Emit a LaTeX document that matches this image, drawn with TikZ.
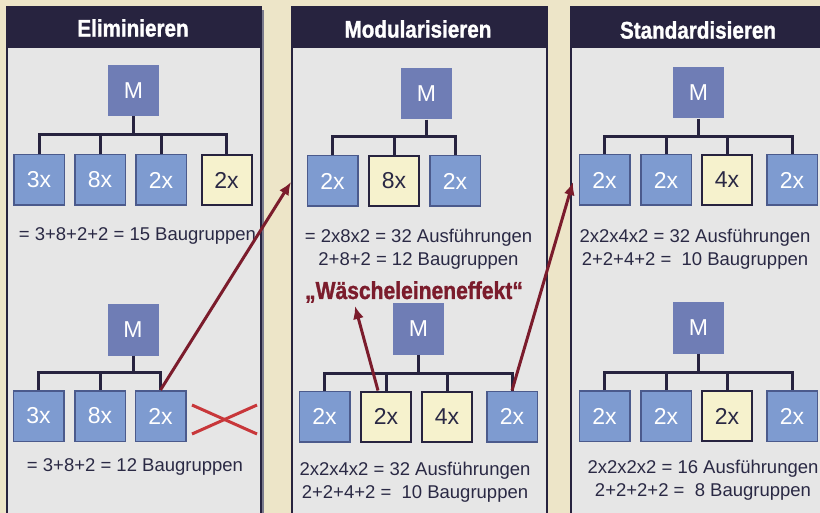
\documentclass[tikz,border=0pt]{standalone}
\usepackage{fontspec}
\setmainfont{Liberation Sans}
\newfontfamily\condbold{Liberation Sans}[FakeStretch=0.86,FakeBold=1.2]
\usetikzlibrary{arrows.meta}
\definecolor{bg}{HTML}{EDE5C8}
\definecolor{panel}{HTML}{E6E6E6}
\definecolor{navy}{HTML}{27233F}
\definecolor{txt}{HTML}{2A2944}
\definecolor{mcol}{HTML}{6F7DB5}
\definecolor{bcol}{HTML}{7E9BD0}
\definecolor{bdraw}{HTML}{4B5A8C}
\definecolor{ycol}{HTML}{F6F2CD}
\definecolor{arrred}{HTML}{7B1C2C}
\definecolor{xred}{HTML}{C8373A}
\definecolor{shadow}{HTML}{7A7A8C}
\tikzset{
  mbox/.style={fill=mcol, minimum size=51pt, inner sep=0pt, text=white, font=\fontsize{23}{26}\selectfont},
  bbox/.style={fill=bcol, draw=bdraw, line width=1.5pt, minimum size=50.5pt, inner sep=0pt, text=white, font=\fontsize{23}{26}\selectfont},
  ybox/.style={fill=ycol, draw=navy, line width=2pt, minimum size=50pt, inner sep=0pt, text=txt, font=\fontsize{23}{26}\selectfont},
  conn/.style={draw=navy, line width=3pt},
  arr/.style={draw=arrred, line width=3pt, -{Latex[length=13pt,width=11pt]}},
  eqtext/.style={text=txt, font=\fontsize{18.5}{23}\selectfont, inner sep=0pt, align=center},
  head/.style={text=white, font=\condbold\bfseries\fontsize{24}{28}\selectfont, inner sep=0pt},
  panelbox/.style={fill=panel, draw=navy, line width=1.2pt},
}
\begin{document}
\begin{tikzpicture}[x=1pt,y=-1pt]
\useasboundingbox (0,0) rectangle (820,513);
\clip (0,0) rectangle (820,513);
\fill[bg] (0,0) rectangle (820,513);
% panels
\fill[shadow] (261,10) rectangle (264,520);
\draw[panelbox] (7,7) rectangle (261,520);
\fill[navy] (7,7) rectangle (261,48);
\draw[panelbox] (292,7) rectangle (547,520);
\fill[navy] (292,7) rectangle (547,48);
\draw[panelbox] (571,7) rectangle (830,520);
\fill[navy] (571,7) rectangle (830,48);
\node[head] (h1) at (133,28) {Eliminieren};
\node[head] (h2) at (418,29) {Modularisieren};
\node[head] (h3) at (698,30) {Standardisieren};

% Panel 1 top
\node[mbox] (am) at (133.5,90.5) {M};
\node[bbox] (ac1) at (39,180) {3x};
\node[bbox] (ac2) at (100,180) {8x};
\node[bbox] (ac3) at (161,180) {2x};
\node[ybox] (ac4) at (226.5,180) {2x};
\draw[conn] (am.south) -- (am.south |- 0,135);
\draw[conn] (ac1.north) |- (ac4.north |- 0,135) -- (ac4.north);
\draw[conn] (ac2.north) -- (ac2.north |- 0,135);
\draw[conn] (ac3.north) -- (ac3.north |- 0,135);
\node[eqtext] (at) at (137.5,236) {= 3+8+2+2 = 15 Baugruppen};

% Panel 1 bottom
\node[mbox] (bm) at (133,330) {M};
\node[bbox] (bc1) at (38.5,416) {3x};
\node[bbox] (bc2) at (100,416) {8x};
\node[bbox] (bc3) at (160.5,416) {2x};
\draw[conn] (bm.south) -- (bm.south |- 0,372);
\draw[conn] (bc1.north) |- (bc3.north |- 0,372) -- (bc3.north);
\draw[conn] (bc2.north) -- (bc2.north |- 0,372);
\node[eqtext] (bt) at (135,467) {= 3+8+2 = 12 Baugruppen};
\draw[xred, line width=3pt] (192,405) -- (257,434);
\draw[xred, line width=3pt] (192,434) -- (257,405);

% Panel 2 top
\node[mbox] (cm) at (426.5,94) {M};
\node[bbox] (cc1) at (332.5,181) {2x};
\node[ybox] (cc2) at (394,181) {8x};
\node[bbox] (cc3) at (455,181) {2x};
\draw[conn] (cm.south) -- (cm.south |- 0,137);
\draw[conn] (cc1.north) |- (cc3.north |- 0,137) -- (cc3.north);
\draw[conn] (cc2.north) -- (cc2.north |- 0,137);
\node[eqtext] (ct) at (418.5,249.5) {= 2x8x2 = 32 Ausführungen\\2+8+2 = 12 Baugruppen};

% Panel 2 bottom
\node[text=arrred, font=\condbold\bfseries\fontsize{24.5}{28}\selectfont, inner sep=0pt] (wl) at (414,292) {„Wäscheleineneffekt“};
\node[mbox] (dm) at (418.5,329) {M};
\node[bbox] (dc1) at (324.5,416.5) {2x};
\node[ybox] (dc2) at (386,416.5) {2x};
\node[ybox] (dc3) at (447,416.5) {4x};
\node[bbox] (dc4) at (512,416.5) {2x};
\draw[conn] (dm.south) -- (dm.south |- 0,373);
\draw[conn] (dc1.north) |- (dc4.north |- 0,373) -- (dc4.north);
\draw[conn] (dc2.north) -- (dc2.north |- 0,373);
\draw[conn] (dc3.north) -- (dc3.north |- 0,373);
\node[eqtext] (dt) at (415,482) {2x2x4x2 = 32 Ausführungen\\2+2+4+2 = \ 10 Baugruppen};

% Panel 3 top
\node[mbox] (em) at (698.5,93) {M};
\node[bbox] (ec1) at (604.5,180) {2x};
\node[bbox] (ec2) at (666,180) {2x};
\node[ybox] (ec3) at (727,180) {4x};
\node[bbox] (ec4) at (792,180) {2x};
\draw[conn] (em.south) -- (em.south |- 0,137);
\draw[conn] (ec1.north) |- (ec4.north |- 0,137) -- (ec4.north);
\draw[conn] (ec2.north) -- (ec2.north |- 0,137);
\draw[conn] (ec3.north) -- (ec3.north |- 0,137);
\node[eqtext] (et) at (695,249.5) {2x2x4x2 = 32 Ausführungen\\2+2+4+2 = \ 10 Baugruppen};

% Panel 3 bottom
\node[mbox] (fm) at (698.5,328) {M};
\node[bbox] (fc1) at (604.5,416) {2x};
\node[bbox] (fc2) at (666,416) {2x};
\node[ybox] (fc3) at (727,416) {2x};
\node[bbox] (fc4) at (792,416) {2x};
\draw[conn] (fm.south) -- (fm.south |- 0,372);
\draw[conn] (fc1.north) |- (fc4.north |- 0,372) -- (fc4.north);
\draw[conn] (fc2.north) -- (fc2.north |- 0,372);
\draw[conn] (fc3.north) -- (fc3.north |- 0,372);
\node[eqtext] (ft) at (703,480) {2x2x2x2 = 16 Ausführungen\\2+2+2+2 = \ 8 Baugruppen};

% arrows
\coordinate (t1) at (291,182);
\coordinate (t2) at (573,182);
\coordinate (t3) at (355,306);
\draw[arr] (bc3.north) -- (t1);
\draw[arr] (dc4.north) -- (t2);
\draw[arr] ([xshift=-8pt]dc2.north) -- (t3);
\end{tikzpicture}
\end{document}
